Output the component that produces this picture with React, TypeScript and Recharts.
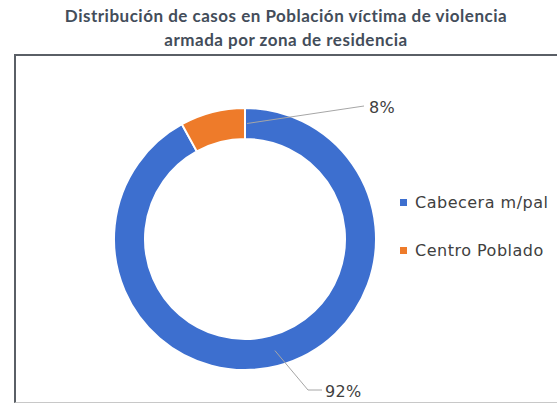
import { PieChart, Pie, Cell, Legend } from "recharts";

const zonas = ["Cabecera m/pal", "Centro Poblado"];
const casos = [92, 8];
const colores = ["#3d6fcf", "#ee7b2a"];

const data = zonas.map((name, i) => ({ name, value: casos[i] }));

const RADIAN = Math.PI / 180;
const labelFont = { fontSize: 16, fill: "#404040", fontFamily: "DejaVu Sans", letterSpacing: 0.3 };

// etiquetas tipo Excel con linea guia
const renderLabel = (props: any) => {
  const { cx, cy, innerRadius, outerRadius, index, percent } = props;
  const midR = (innerRadius + outerRadius) / 2;
  const text = `${Math.round(percent * 100)}%`;
  if (index === 1) {
    // segmento pequeño: linea desde arriba del anillo hacia la derecha
    const sx = cx + 2;
    const sy = cy - midR;
    const ex = cx + 119;
    const ey = cy - outerRadius - 2;
    return (
      <g>
        <line x1={sx} y1={sy} x2={ex} y2={ey} stroke="#a6a6a6" strokeWidth={1} />
        <text x={ex + 5} y={ey + 7} {...labelFont}>
          {text}
        </text>
      </g>
    );
  }
  const a = -75 * RADIAN;
  const sx = cx + midR * Math.cos(a);
  const sy = cy - midR * Math.sin(a);
  const mx = cx + 63;
  const my = cy + outerRadius + 20;
  return (
    <g>
      <polyline points={`${sx},${sy} ${mx},${my} ${mx + 14},${my}`} fill="none" stroke="#a6a6a6" strokeWidth={1} />
      <text x={mx + 17} y={my + 7} {...labelFont}>
        {text}
      </text>
    </g>
  );
};

const renderLegend = () => (
  <div style={{ fontFamily: "DejaVu Sans", fontSize: 16, letterSpacing: 0.5, color: "#404040" }}>
    {zonas.map((z, i) => (
      <div key={z} style={{ display: "flex", alignItems: "center", height: 48, whiteSpace: "nowrap" }}>
        <span style={{ width: 7, height: 7, background: colores[i], marginRight: 8, display: "inline-block" }} />
        {z}
      </div>
    ))}
  </div>
);

export default function App() {
  return (
    <div
      style={{
        position: "absolute",
        left: 0,
        top: 0,
        width: 557,
        height: 403,
        overflow: "hidden",
        background: "#fff",
      }}
    >
      <div
        style={{
          position: "absolute",
          top: 4,
          left: 0,
          width: 572,
          textAlign: "center",
          fontFamily: "Lato",
          fontWeight: 700,
          fontSize: 17,
          letterSpacing: 0.5,
          lineHeight: "24px",
          color: "#434d5a",
          whiteSpace: "nowrap",
        }}
      >
        Distribución de casos en Población víctima de violencia
        <br />
        armada por zona de residencia
      </div>
      <div
        style={{
          position: "absolute",
          left: 14,
          top: 54,
          width: 580,
          height: 346,
          borderTop: "2px solid #5a5f66",
          borderLeft: "2px solid #5a5f66",
          borderBottom: "1px solid #c8c8c8",
        }}
      />
      <div style={{ position: "absolute", left: 0, top: 0 }}>
        <PieChart width={557} height={403}>
          <Pie
            data={data}
            dataKey="value"
            nameKey="name"
            cx={240}
            cy={234}
            innerRadius={100}
            outerRadius={131}
            startAngle={90}
            endAngle={-270}
            stroke="#ffffff"
            strokeWidth={2}
            label={renderLabel}
            labelLine={false}
            isAnimationActive={false}
          >
            {data.map((d, i) => (
              <Cell key={d.name} fill={colores[i]} />
            ))}
          </Pie>
          <Legend
            content={renderLegend}
            layout="vertical"
            wrapperStyle={{ position: "absolute", left: 400, top: 178, width: 170 }}
          />
        </PieChart>
      </div>
    </div>
  );
}
